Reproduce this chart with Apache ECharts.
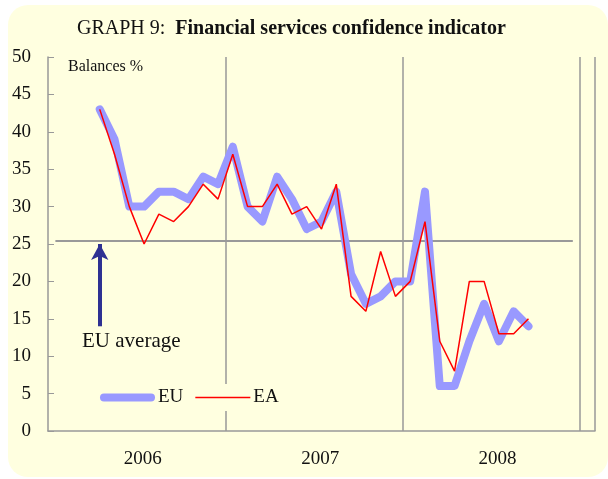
<!DOCTYPE html>
<html>
<head>
<meta charset="utf-8">
<script src="https://cdn.jsdelivr.net/npm/echarts@6/dist/echarts.min.js"></script>
<style>
  html, body { margin: 0; padding: 0; background: #fff; }
  #main { width: 608px; height: 479px; }
</style>
</head>
<body>
<div id="main"></div>
<script>
// months Jan 2006 .. Dec 2008, plus one empty slot at the right end
var months = ['2006-01','2006-02','2006-03','2006-04','2006-05','2006-06','2006-07','2006-08','2006-09','2006-10','2006-11','2006-12',
  '2007-01','2007-02','2007-03','2007-04','2007-05','2007-06','2007-07','2007-08','2007-09','2007-10','2007-11','2007-12',
  '2008-01','2008-02','2008-03','2008-04','2008-05','2008-06','2008-07','2008-08','2008-09','2008-10','2008-11','2008-12','']
var yearLabelAt = [5, 17, 29]
var yearLineAt = [12, 24, 36]

// values from Apr 2006 to Oct 2008
var euVals = [43,39,30,30,32,32,31,34,33,38,30,28,34,31,27,28,32,21,17,18,20,20,32,6,6,12,17,12,16,14]
var eaVals = [43,37,30,25,29,28,30,33,31,37,30,30,33,29,30,27,33,18,16,24,18,20,28,12,8,20,20,13,13,15]
var startIdx = 3
var euAverage = 25.5
var arrowFrom = 14, arrowTo = 25

function pad(vals) {
  var out = []
  for (var i = 0; i < months.length; i++) {
    var k = i - startIdx
    out.push(k >= 0 && k < vals.length ? vals[k] : null)
  }
  return out
}

var serif = '"Liberation Serif", "DejaVu Serif", serif'
var bg = '#FFFFE0'
var chart = echarts.init(document.getElementById('main'))
chart.setOption({
  backgroundColor: '#ffffff',
  animation: false,
  graphic: [
    { type: 'rect', z: -10, shape: { x: 8, y: 5, width: 600, height: 472, r: 20 }, style: { fill: bg } },
    { type: 'text', left: 68, top: 59, style: { text: 'Balances %', font: '16px ' + serif, fill: '#111' } },
    { type: 'text', left: 82, top: 331, style: { text: 'EU average', font: '21px ' + serif, fill: '#111' } }
  ],
  title: {
    left: 72, top: 14,
    text: '{a|GRAPH 9:  }{b|Financial services confidence indicator}',
    textStyle: {
      rich: {
        a: { fontFamily: serif, fontSize: 20, fontWeight: 'normal', color: '#111' },
        b: { fontFamily: serif, fontSize: 20, fontWeight: 'bold', color: '#111' }
      }
    }
  },
  legend: {
    left: 96, top: 384,
    itemWidth: 55, itemHeight: 9, itemGap: 12,
    backgroundColor: bg,
    padding: [4, 4],
    textStyle: { fontFamily: serif, fontSize: 19, color: '#111', padding: [0, 0, 0, -2] },
    data: [
      { name: 'EU', icon: 'path://M4,0 L51,0 A4,4 0 0 1 51,8 L4,8 A4,4 0 0 1 4,0 Z' },
      { name: 'EA', icon: 'path://M0,0 L55,0 L55,1.5 L0,1.5 Z' }
    ]
  },
  grid: { left: 48, right: 13, top: 57, bottom: 48 },
  xAxis: {
    type: 'category',
    data: months,
    boundaryGap: true,
    axisLine: { lineStyle: { color: '#999', width: 1.5 } },
    axisTick: { show: false },
    splitLine: {
      show: true,
      interval: function (i) { return yearLineAt.indexOf(i) >= 0 },
      lineStyle: { color: '#999', width: 1.5 }
    },
    axisLabel: {
      interval: function (i) { return yearLabelAt.indexOf(i) >= 0 },
      formatter: function (v) { return v.slice(0, 4) },
      padding: [0, 0, 0, 27],
      margin: 19,
      fontFamily: serif, fontSize: 19, color: '#111'
    }
  },
  yAxis: {
    type: 'value',
    min: 0, max: 50, interval: 5,
    axisLine: { show: true, lineStyle: { color: '#999', width: 1.5 } },
    axisTick: { show: true, inside: true, length: 6, lineStyle: { color: '#999' } },
    splitLine: { show: false },
    axisLabel: { margin: 17, fontFamily: serif, fontSize: 19, color: '#111' }
  },
  series: [
    {
      name: 'EU', type: 'line', data: pad(euVals), symbol: 'none', z: 2,
      itemStyle: { color: '#9999FF' },
      lineStyle: { color: '#9999FF', width: 8, cap: 'round', join: 'round' },
      markLine: {
        silent: true, symbol: 'none', z: 1,
        label: { show: false },
        lineStyle: { color: '#999', width: 2, type: 'solid' },
        data: [[{ coord: [0, euAverage] }, { coord: [35, euAverage] }]]
      }
    },
    {
      name: 'EA', type: 'line', data: pad(eaVals), symbol: 'none', z: 3,
      itemStyle: { color: '#FF0000' },
      lineStyle: { color: '#FF0000', width: 1.5 },
      markLine: {
        silent: true, symbol: ['none', 'arrow'], symbolSize: [13, 16],
        label: { show: false },
        lineStyle: { color: '#2E3192', width: 4, type: 'solid' },
        data: [[{ coord: [3, arrowFrom] }, { coord: [3, arrowTo] }]]
      }
    }
  ]
})
</script>
</body>
</html>
